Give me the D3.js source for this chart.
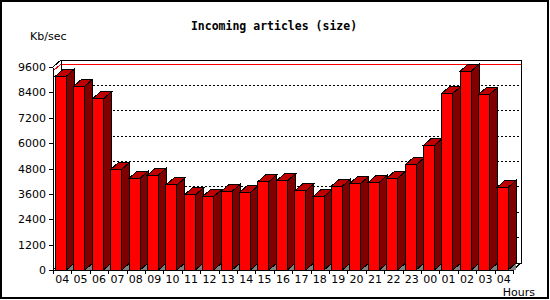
<!DOCTYPE html>
<html>
<head>
<meta charset="utf-8">
<script src="https://cdn.jsdelivr.net/npm/d3@7"></script>
<style>
body{margin:0;background:#fff;}
svg{display:block;}
</style>
</head>
<body>
<script>
// hourly incoming article size, Kb/sec
var hours = ["04","05","06","07","08","09","10","11","12","13","14","15","16",
             "17","18","19","20","21","22","23","00","01","02","03","04"];
var kbsec = [9170,8700,8090,4760,4340,4490,4020,3550,3480,3720,3670,4180,4210,
             3740,3480,3970,4100,4150,4340,4970,5900,8360,9410,8310,3910];
var yTicks = [0,1200,2400,3600,4800,6000,7200,8400,9600];

var W = 550, H = 300;
var dx = 8, dy = 7;   // 3d depth
var plotL = 53, plotR = 513, plotB = 270, plotT = 67;

var svg = d3.select("body").append("svg")
	.attr("width",W)
	.attr("height",H)
	.style("font-family","'DejaVu Sans', sans-serif");

svg.append("rect")
	.attr("x",1).attr("y",1)
	.attr("width",W-3).attr("height",H-3)
	.attr("fill","#fff")
	.attr("stroke","#000")
	.attr("stroke-width",2);

var x = d3.scaleBand()
	.domain(d3.range(hours.length))
	.range([plotL,plotR]);
var xEdge = d3.scaleLinear()
	.domain([0,hours.length])
	.range([plotL,plotR]);
var y = d3.scaleLinear()
	.domain([0,9600])
	.range([plotB,plotT]);

var g = svg.append("g").attr("shape-rendering","crispEdges");

// back wall grid
g.selectAll(".grid")
	.data(yTicks.slice(1,-1))
	.enter()
	.append("line")
	.attr("class","grid")
	.attr("x1",plotL+dx).attr("x2",plotR+dx)
	.attr("y1",function(d){return y(d)-dy})
	.attr("y2",function(d){return y(d)-dy})
	.attr("stroke","#000")
	.attr("stroke-dasharray","2,2");

// max line
var maxV = d3.max(kbsec);
g.append("path")
	.attr("d","M"+plotL+","+y(maxV)+"L"+(plotL+dx)+","+(y(maxV)-dy)+"H"+(plotR+dx))
	.attr("fill","none")
	.attr("stroke","#ff0000");

// back frame and walls
g.append("rect")
	.attr("x",plotL+dx).attr("y",plotT-dy)
	.attr("width",plotR-plotL).attr("height",plotB-plotT)
	.attr("fill","none")
	.attr("stroke","#000");
g.append("path")
	.attr("d","M"+plotL+","+plotT+"l"+dx+","+(-dy)
		+"M"+plotL+","+plotB+"l"+dx+","+(-dy)
		+"M"+plotR+","+plotB+"l"+dx+","+(-dy))
	.attr("fill","none")
	.attr("stroke","#000");

// bars
var bars = g.selectAll(".bar")
	.data(kbsec)
	.enter()
	.append("g")
	.attr("class","bar");

function pts(a){return a.map(function(p){return p.join(",")}).join(" ");}

bars.append("polygon")
	.attr("points",function(d,i){
		var r = x(i)+13.5;
		return pts([[r,plotB],[r+dx,plotB-dy],[r+dx,plotB]]);
	})
	.attr("fill","#808080");

bars.append("rect")
	.attr("x",function(d,i){return x(i)+2.5})
	.attr("y",function(d){return y(d)})
	.attr("width",11)
	.attr("height",function(d){return plotB-y(d)})
	.attr("fill","#ff0000")
	.attr("stroke","#000");

bars.append("polygon")
	.attr("points",function(d,i){
		var r = x(i)+13.5, t = y(d);
		return pts([[r,t],[r+dx,t-dy],[r+dx,plotB-dy],[r,plotB]]);
	})
	.attr("fill","#800000")
	.attr("stroke","#000");

bars.append("polygon")
	.attr("points",function(d,i){
		var l = x(i)+2.5, r = l+11, t = y(d);
		return pts([[l,t],[l+dx,t-dy],[r+dx,t-dy],[r,t]]);
	})
	.attr("fill","#c00000")
	.attr("stroke","#000");

// axes
var yAxis = d3.axisLeft(y)
	.tickValues(yTicks)
	.tickFormat(d3.format("d"))
	.tickSize(4)
	.tickSizeOuter(0)
	.tickPadding(3);
svg.append("g")
	.attr("transform","translate("+plotL+",0)")
	.attr("shape-rendering","crispEdges")
	.call(yAxis)
	.selectAll("text")
	.attr("font-family","'DejaVu Sans', sans-serif")
	.attr("font-size","11px")
	.attr("fill","#000");

var xAxis = d3.axisBottom(x)
	.tickSize(0)
	.tickSizeOuter(0)
	.tickPadding(5)
	.tickFormat(function(i){return hours[i]});
svg.append("g")
	.attr("transform","translate(0,"+plotB+")")
	.attr("shape-rendering","crispEdges")
	.call(xAxis)
	.selectAll("text")
	.attr("font-family","'DejaVu Sans', sans-serif")
	.attr("font-size","11px")
	.attr("fill","#000");

var edgeAxis = d3.axisBottom(xEdge)
	.tickValues(d3.range(hours.length+1))
	.tickSize(4)
	.tickFormat("");
svg.append("g")
	.attr("transform","translate(0,"+plotB+")")
	.attr("shape-rendering","crispEdges")
	.call(edgeAxis)
	.select(".domain").remove();

// texts
svg.append("text")
	.attr("x",274).attr("y",30)
	.attr("text-anchor","middle")
	.attr("font-family","'DejaVu Sans Mono', monospace")
	.attr("font-weight","bold")
	.attr("font-size","11.5px")
	.text("Incoming articles (size)");

svg.append("text")
	.attr("x",30).attr("y",40)
	.attr("font-size","11px")
	.text("Kb/sec");

svg.append("text")
	.attr("x",535).attr("y",296)
	.attr("text-anchor","end")
	.attr("font-size","11px")
	.text("Hours");
</script>
</body>
</html>
